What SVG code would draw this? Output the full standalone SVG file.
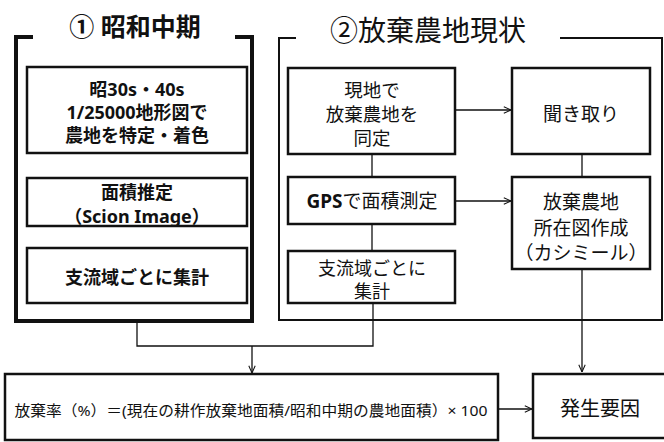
<svg xmlns="http://www.w3.org/2000/svg" width="664" height="442" viewBox="0 0 664 442">
<style>
text{font-family:"Noto Sans","Noto Sans CJK JP",sans-serif;fill:#111;text-anchor:middle;dominant-baseline:central}
.b{font-weight:bold}
.box{fill:#fff;stroke:#111;stroke-width:2.5}
.frame{fill:none;stroke:#111}
.ln{fill:none;stroke:#111;stroke-width:1.3}
</style>
<defs>
<marker id="ah" viewBox="0 0 10 10" refX="10" refY="5" markerWidth="8" markerHeight="8" markerUnits="userSpaceOnUse" orient="auto">
<polyline points="1,1 10,5 1,9" fill="none" stroke="#111" stroke-width="1.3"/>
</marker>
</defs>
<rect width="664" height="442" fill="#fff"/>
<g id="frame1">
<polyline class="frame" stroke-width="4" points="33,37 16,37 16,321 252,321 252,37 235,37"/>
<text class="b" x="135" y="26" font-size="25">① 昭和中期</text>
</g>
<g id="frame2">
<polyline class="frame" stroke-width="2" points="296,38 279,38 279,320 662,320 662,38 560,38"/>
<text x="428" y="30" font-size="28">②放棄農地現状</text>
</g>
<g id="connectors">
<line class="ln" x1="372" y1="154" x2="372" y2="177"/>
<line class="ln" x1="372" y1="224" x2="372" y2="251"/>
<line class="ln" x1="582" y1="154" x2="582" y2="177"/>
<line class="ln" x1="455" y1="110" x2="511" y2="110" marker-end="url(#ah)"/>
<line class="ln" x1="455" y1="201" x2="511" y2="201" marker-end="url(#ah)"/>
<polyline class="ln" points="137,322 137,346 373,346 373,303"/>
<line class="ln" x1="252" y1="346" x2="252" y2="373" marker-end="url(#ah)"/>
<line class="ln" x1="582" y1="269" x2="582" y2="372" marker-end="url(#ah)"/>
<line class="ln" x1="498" y1="409" x2="532" y2="409" marker-end="url(#ah)"/>
</g>
<g id="n1">
<rect class="box" x="27" y="67" width="220" height="86"/>
<text class="b" x="137" y="89" font-size="18">昭30s・40s</text>
<text class="b" x="137" y="112" font-size="18">1/25000地形図で</text>
<text class="b" x="137" y="135" font-size="18">農地を特定・着色</text>
</g>
<g id="n2">
<rect class="box" x="27" y="178" width="220" height="48"/>
<text class="b" x="137" y="192" font-size="18">面積推定</text>
<text class="b" x="137" y="216" font-size="18">（Scion Image）</text>
</g>
<g id="n3">
<rect class="box" x="27" y="248" width="220" height="55"/>
<text class="b" x="137" y="277" font-size="18">支流域ごとに集計</text>
</g>
<g id="n4">
<rect class="box" x="288" y="68" width="167" height="86"/>
<text x="372" y="89" font-size="18.5">現地で</text>
<text x="372" y="113" font-size="18.5">放棄農地を</text>
<text x="372" y="137" font-size="18.5">同定</text>
</g>
<g id="n5">
<rect class="box" x="512" y="68" width="138" height="86"/>
<text x="581" y="114" font-size="19">聞き取り</text>
</g>
<g id="n6">
<rect class="box" x="288" y="177" width="167" height="47"/>
<text x="372" y="201" font-size="19"><tspan class="b">GPS</tspan>で面積測定</text>
</g>
<g id="n7">
<rect class="box" x="512" y="177" width="138" height="92"/>
<text x="581" y="202" font-size="19">放棄農地</text>
<text x="581" y="228" font-size="19">所在図作成</text>
<text x="581" y="253" font-size="19">（カシミール）</text>
</g>
<g id="n8">
<rect class="box" x="288" y="251" width="167" height="52"/>
<text x="372" y="268" font-size="18">支流域ごとに</text>
<text x="372" y="291" font-size="18">集計</text>
</g>
<g id="n9">
<rect class="box" x="5" y="374" width="493" height="66"/>
<text x="251" y="410" font-size="15" textLength="473" lengthAdjust="spacingAndGlyphs">放棄率（%）＝(現在の耕作放棄地面積/昭和中期の農地面積）× 100</text>
</g>
<g id="n10">
<rect class="box" x="533" y="374" width="133" height="64"/>
<text x="600" y="408" font-size="20">発生要因</text>
</g>
</svg>
